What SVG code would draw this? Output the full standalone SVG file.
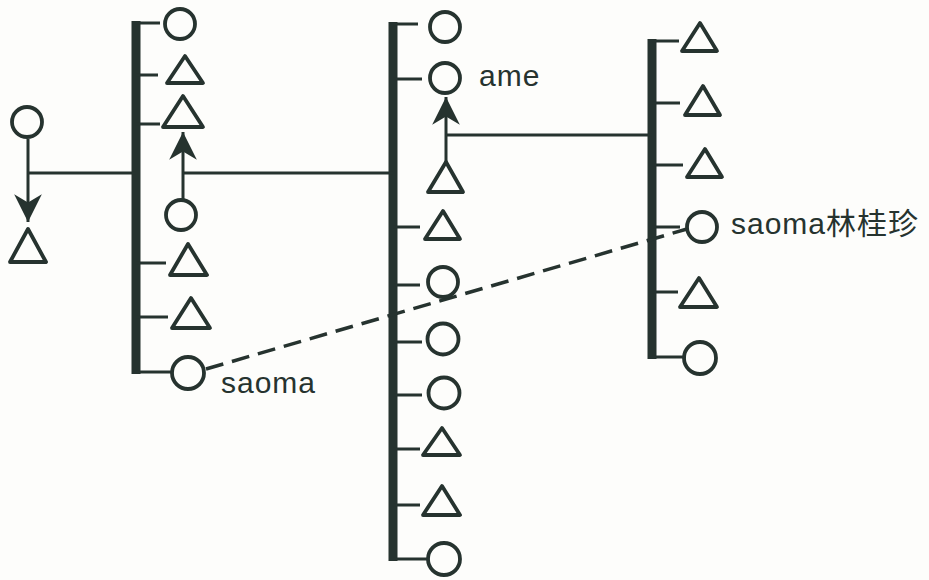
<svg xmlns="http://www.w3.org/2000/svg" width="929" height="580" viewBox="0 0 929 580">
<defs>
<style>
.s{fill:none;stroke:#26332f;stroke-width:3.8;stroke-linejoin:round}
.ln{fill:none;stroke:#26332f;stroke-width:3;stroke-linecap:butt}
.bar{fill:none;stroke:#26332f;stroke-width:9;stroke-linecap:butt}
.dash{fill:none;stroke:#26332f;stroke-width:3.5;stroke-dasharray:18 9}
.t{font-family:"Liberation Sans","Noto Sans CJK SC",sans-serif;font-size:30px;fill:#26332f;letter-spacing:1px}
</style>
<marker id="ah" markerUnits="userSpaceOnUse" markerWidth="30" markerHeight="30" viewBox="0 -13 25 26" refX="24" refY="0" orient="auto">
<path d="M0,-12 L24,0 L0,12 L7,0 Z" fill="#26332f"/>
</marker>
</defs>
<rect width="929" height="580" fill="#fdfdfb"/>

<g id="connectors">
<!-- sibling bars -->
<path class="bar" d="M136,21 V374"/>
<path class="bar" d="M393,22 V561"/>
<path class="bar" d="M652,39 V359"/>
<!-- hooks and ticks -->
<path class="ln" d="M136,23 H160 M136,372 H171 M136,75 H158 M136,124 H160 M136,263 H166 M136,317 H168"/>
<path class="ln" d="M393,24 H418 M393,559 H427 M393,79 H422 M393,227 H420 M393,285 H420 M393,342 H422 M393,395 H422 M393,449 H420 M393,505 H420"/>
<path class="ln" d="M652,41 H679 M652,357 H686 M652,103 H680 M652,165 H683 M652,227 H680 M652,292 H678"/>
<!-- link lines -->
<path class="ln" d="M28,173 H136"/>
<path class="ln" d="M183,173 H393"/>
<path class="ln" d="M446,135 H652"/>
<!-- arrows -->
<path class="ln" d="M28,139 V222" marker-end="url(#ah)"/>
<path class="ln" d="M183,199 V132" marker-end="url(#ah)"/>
<path class="ln" d="M446,162 V97" marker-end="url(#ah)"/>
<!-- dashed link -->
<path class="dash" d="M206,369 L687,229"/>
</g>

<g id="far-left">
<circle id="fl-c" class="s" cx="27" cy="122" r="15"/>
<path id="fl-t" class="s" d="M28,229 L46,262 L10,262 Z"/>
</g>

<g id="left-group">
<circle id="l1" class="s" cx="180" cy="24" r="15"/>
<path id="l2" class="s" d="M185,56 L203,83 L167,83 Z"/>
<path id="l3" class="s" d="M183,96 L203,127 L163,127 Z"/>
<circle id="l4" class="s" cx="181" cy="215" r="15"/>
<path id="l5" class="s" d="M188,244 L207,275 L170,275 Z"/>
<path id="l6" class="s" d="M191,298 L210,328 L172,328 Z"/>
<circle id="l7" class="s" cx="188" cy="373" r="16"/>
<text class="t" x="221" y="393">saoma</text>
</g>

<g id="middle-group">
<circle id="m1" class="s" cx="445" cy="27" r="15"/>
<circle id="m2" class="s" cx="445" cy="78" r="15"/>
<text class="t" x="479" y="86">ame</text>
<path id="m3" class="s" d="M446,162 L463,192 L428,192 Z"/>
<path id="m4" class="s" d="M443,211 L460,239 L425,239 Z"/>
<circle id="m5" class="s" cx="443" cy="282" r="15"/>
<circle id="m6" class="s" cx="443" cy="339" r="15.5"/>
<circle id="m7" class="s" cx="444" cy="393" r="15.5"/>
<path id="m8" class="s" d="M442,428 L460,455 L423,455 Z"/>
<path id="m9" class="s" d="M442,486 L460,515 L423,515 Z"/>
<circle id="m10" class="s" cx="444" cy="559" r="16"/>
</g>

<g id="right-group">
<path id="r1" class="s" d="M700,23 L717,51 L682,51 Z"/>
<path id="r2" class="s" d="M703,86 L720,115 L685,115 Z"/>
<path id="r3" class="s" d="M705,149 L722,177 L687,177 Z"/>
<circle id="r4" class="s" cx="702" cy="227" r="15"/>
<text class="t" x="731" y="234">saoma林桂珍</text>
<path id="r5" class="s" d="M699,278 L717,307 L680,307 Z"/>
<circle id="r6" class="s" cx="700" cy="358" r="16"/>
</g>
</svg>
